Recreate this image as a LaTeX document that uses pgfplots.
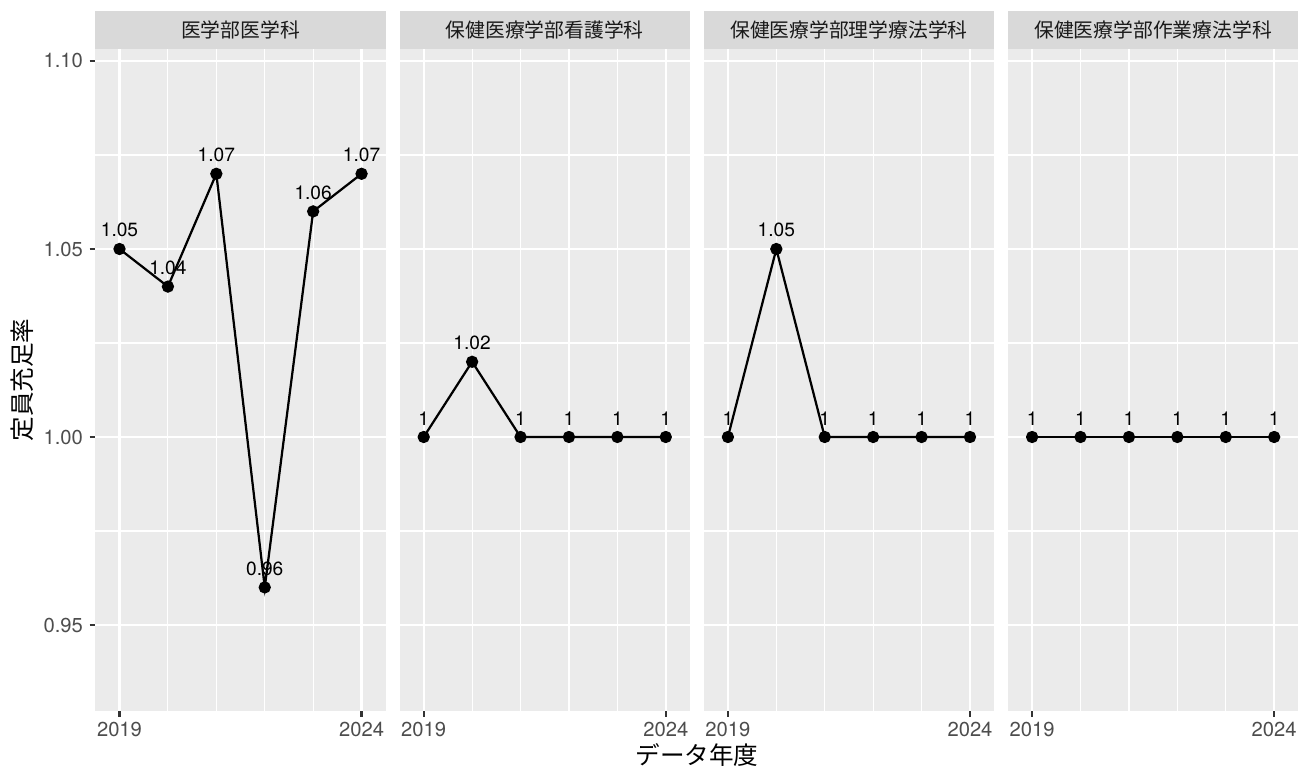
\documentclass[border=0pt]{standalone}
\usepackage{pgfplots}
\pgfplotsset{compat=1.18}
\usepackage{pgfplotstable}
\usepackage{fontspec}
\setmainfont{TeX Gyre Heros}
\newfontfamily\jp{Noto Sans CJK JP}
\definecolor{panelbg}{HTML}{EBEBEB}
\definecolor{stripbg}{HTML}{D9D9D9}
\definecolor{striptext}{HTML}{1A1A1A}
\definecolor{ticktext}{HTML}{4D4D4D}
\definecolor{tickc}{HTML}{333333}

\pgfplotstableread{
x y lab
2019 1.05 1.05
2020 1.04 1.04
2021 1.07 1.07
2022 0.96 0.96
2023 1.06 1.06
2024 1.07 1.07
}\tabA
\pgfplotstableread{
x y lab
2019 1.00 1
2020 1.02 1.02
2021 1.00 1
2022 1.00 1
2023 1.00 1
2024 1.00 1
}\tabB
\pgfplotstableread{
x y lab
2019 1.00 1
2020 1.05 1.05
2021 1.00 1
2022 1.00 1
2023 1.00 1
2024 1.00 1
}\tabC
\pgfplotstableread{
x y lab
2019 1.00 1
2020 1.00 1
2021 1.00 1
2022 1.00 1
2023 1.00 1
2024 1.00 1
}\tabD

\pgfplotsset{
  panel/.style={
    at={(#1,27.84pt)}, anchor=south west, scale only axis,
    width=139.44pt, height=317.76pt,
    xmin=2018.5, xmax=2024.5, ymin=0.92713, ymax=1.10319,
    axis line style={draw=none},
    axis background/.style={fill=panelbg},
    xtick={2019,2024}, xticklabels={2019,2024},
    minor xtick={2020,2021,2022,2023},
    ytick={0.95,1,1.05,1.1},
    minor ytick={0.975,1.025,1.075},
    grid=both,
    major grid style={white, line width=1.07pt},
    minor grid style={white, line width=0.53pt},
    tick align=outside, major tick length=2.75pt, minor tick length=0pt,
    tickpos=left,
    tick style={draw=none},
    extra x ticks={2019,2024}, extra x tick labels={},
    extra x tick style={grid=none, tick style={draw=tickc, line width=1.07pt}},
    tick label style={font=\fontsize{9.7}{11}\selectfont, text=ticktext},
    xticklabel style={inner sep=0pt, anchor=north, yshift=-2.5pt},
    yticklabel style={inner sep=0pt, anchor=east, xshift=-3pt},
    clip=false,
    nodes near coords, point meta=explicit symbolic,
    nodes near coords style={anchor=center, yshift=9.02pt, font=\fontsize{9.2}{10}\selectfont, text=black},
  },
}
\newcommand{\strip}[1]{%
  \fill[stripbg] (rel axis cs:0,1) rectangle ([yshift=18.24pt]rel axis cs:1,1);
  \node[text=striptext, font=\jp\fontsize{9.5}{10}\selectfont] at ([yshift=9.12pt]rel axis cs:0.5,1) {#1};
}

\begin{document}
\begin{tikzpicture}
\useasboundingbox (0,0) rectangle (623.52pt,369.12pt);

\begin{axis}[panel=45.74pt,
  yticklabels={0.95,1.00,1.05,1.10},
  extra y ticks={0.95,1,1.05,1.1}, extra y tick labels={},
  extra y tick style={grid=none, tick style={draw=tickc, line width=1.07pt}}]
\addplot[black, line width=1.07pt, mark=*, mark size=2.4pt] table[x=x, y=y, meta=lab] {\tabA};
\strip{医学部医学科}
\end{axis}

\begin{axis}[panel=191.76pt, yticklabels={}]
\addplot[black, line width=1.07pt, mark=*, mark size=2.4pt] table[x=x, y=y, meta=lab] {\tabB};
\strip{保健医療学部看護学科}
\end{axis}

\begin{axis}[panel=337.78pt, yticklabels={}]
\addplot[black, line width=1.07pt, mark=*, mark size=2.4pt] table[x=x, y=y, meta=lab] {\tabC};
\strip{保健医療学部理学療法学科}
\end{axis}

\begin{axis}[panel=483.79pt, yticklabels={}]
\addplot[black, line width=1.07pt, mark=*, mark size=2.4pt] table[x=x, y=y, meta=lab] {\tabD};
\strip{保健医療学部作業療法学科}
\end{axis}

\node[rotate=90, font=\jp\fontsize{11.8}{12}\selectfont] at (10.56pt,186.7pt) {定員充足率};
\node[font=\jp\fontsize{11.8}{12}\selectfont] at (334.6pt,6.72pt) {データ年度};
\end{tikzpicture}
\end{document}
